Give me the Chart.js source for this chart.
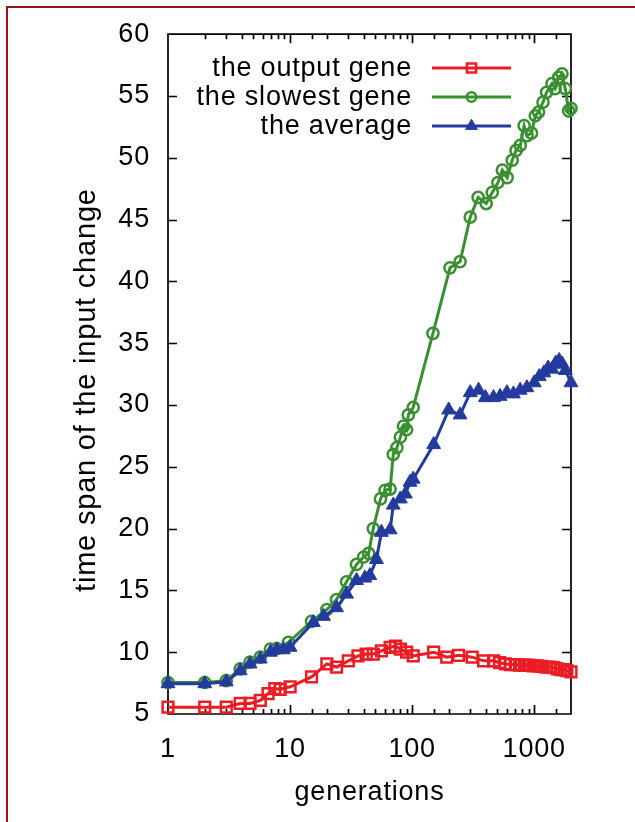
<!DOCTYPE html>
<html>
<head>
<meta charset="utf-8">
<script src="https://cdn.jsdelivr.net/npm/chart.js@4.4.1/dist/chart.umd.min.js"></script>
<style>
  html, body { margin: 0; padding: 0; background: #fff; overflow: hidden; }
  #wrap { position: relative; width: 635px; height: 822px; }
  #frame {
    position: absolute; left: 6px; top: 6px; width: 700px; height: 900px;
    border-left: 2.5px solid #9b1212; border-top: 2.5px solid #9b1212;
    pointer-events: none;
  }
  canvas { position: absolute; left: 0; top: 0; }
</style>
</head>
<body>
<div id="wrap">
  <canvas id="c" width="635" height="822"></canvas>
  <div id="frame"></div>
</div>
<script>
// generations (log axis) and time span values for each curve
const outputGeneX = [1, 2, 3, 3.9, 4.7, 5.7, 6.6, 7.5, 8.3, 10, 15, 20, 24, 30, 36, 42, 48, 56, 66, 73, 80, 90, 102, 150, 192, 240, 310, 385, 465, 520, 580, 640, 700, 760, 830, 900, 980, 1060, 1150, 1250, 1350, 1450, 1550, 1650, 1750, 1850, 2000];
const outputGeneY = [5.55, 5.55, 5.55, 5.85, 5.85, 6.1, 6.65, 7.05, 7.0, 7.2, 8.0, 9.05, 8.8, 9.3, 9.7, 9.85, 9.85, 10.1, 10.4, 10.5, 10.25, 10.0, 9.7, 10.0, 9.6, 9.75, 9.6, 9.3, 9.3, 9.15, 9.05, 9.0, 9.0, 8.95, 8.95, 8.95, 8.9, 8.9, 8.85, 8.8, 8.8, 8.75, 8.65, 8.6, 8.6, 8.5, 8.4];

const slowestGeneX = [1, 2, 3, 3.9, 4.7, 5.7, 6.9, 7.8, 9.7, 15, 20, 24, 29, 35, 40, 44, 48, 55, 60, 66, 70, 75, 80, 85, 90, 93, 102, 148, 204, 247, 299, 347, 404, 453, 504, 548, 600, 660, 710, 768, 826, 873, 950, 1020, 1084, 1180, 1262, 1397, 1480, 1585, 1687, 1795, 1910, 2000];
const slowestGeneY = [7.55, 7.55, 7.7, 8.65, 9.2, 9.6, 10.25, 10.3, 10.8, 12.5, 13.45, 14.25, 15.7, 17.1, 17.7, 18.0, 20.0, 22.4, 23.1, 23.2, 26.0, 26.55, 27.4, 28.3, 28.0, 29.2, 29.8, 35.8, 41.1, 41.6, 45.2, 46.8, 46.3, 47.2, 48.0, 49.0, 48.4, 49.8, 50.6, 51.0, 52.6, 51.8, 52.0, 53.4, 53.7, 54.5, 55.3, 56.0, 55.6, 56.5, 56.8, 55.6, 53.8, 54.0];

const averageX = [1, 2, 3, 3.9, 4.7, 5.7, 6.9, 7.8, 8.8, 10, 15.5, 18.8, 24, 29, 35, 41, 45, 51, 56, 66, 70, 80, 88, 96, 102, 150, 199, 247, 299, 350, 398, 464, 525, 597, 675, 767, 870, 1000, 1100, 1200, 1300, 1400, 1500, 1600, 1700, 1800, 2000];
const averageY = [7.45, 7.45, 7.6, 8.5, 9.05, 9.45, 10.0, 10.2, 10.2, 10.4, 12.4, 12.9, 13.6, 14.7, 15.8, 16.0, 16.2, 17.5, 19.7, 19.9, 21.9, 22.4, 22.8, 23.75, 24.0, 26.8, 29.6, 29.2, 31.0, 31.2, 30.6, 30.6, 30.7, 31.0, 30.9, 31.2, 31.4, 31.8, 32.3, 32.6, 33.0, 32.9, 33.4, 33.6, 33.3, 32.8, 31.8];

const seriesLabels = ['the output gene', 'the slowest gene', 'the average'];
const xTickLabels = [1, 10, 100, 1000];
const yTickValues = [5, 10, 15, 20, 25, 30, 35, 40, 45, 50, 55, 60];
const yAxisTitle = 'time span of the input change';

const RED = '#ec1c24', GREEN = '#3a9030', BLUE = '#233b9e';
const FONT = '"Liberation Sans", Arial, Helvetica, sans-serif';
const SIZE = 27;
const SPACING = '0.8px';

const toPoints = (xs, ys) => xs.map((x, i) => ({ x, y: ys[i] }));
const isPow10 = v => v > 0 && Math.abs(Math.log10(v) - Math.round(Math.log10(v))) < 1e-9;

// slightly looser tracking for all canvas text
const tracking = {
  id: 'tracking',
  beforeUpdate(chart) { chart.ctx.letterSpacing = SPACING; },
  beforeDraw(chart) { chart.ctx.letterSpacing = SPACING; }
};

// plot border with inward tick marks on all four sides
const frameTicks = {
  id: 'frameTicks',
  beforeDatasetsDraw(chart) {
    const { ctx, chartArea: a, scales: { x, y } } = chart;
    ctx.save();
    ctx.strokeStyle = '#000';
    ctx.lineWidth = 1.7;
    ctx.beginPath();
    ctx.rect(a.left, a.top, a.right - a.left, a.bottom - a.top);
    x.ticks.forEach(t => {
      const px = Math.round(x.getPixelForValue(t.value)) + 0.5;
      if (px <= a.left + 1 || px >= a.right - 1) return;
      const len = isPow10(t.value) ? 9 : 5;
      ctx.moveTo(px, a.bottom); ctx.lineTo(px, a.bottom - len);
      ctx.moveTo(px, a.top); ctx.lineTo(px, a.top + len);
    });
    y.ticks.forEach(t => {
      const py = Math.round(y.getPixelForValue(t.value)) + 0.5;
      if (py <= a.top + 1 || py >= a.bottom - 1) return;
      ctx.moveTo(a.left, py); ctx.lineTo(a.left + 9, py);
      ctx.moveTo(a.right, py); ctx.lineTo(a.right - 9, py);
    });
    ctx.stroke();

    // vertical axis title, running bottom to top beside the tick labels
    ctx.save();
    ctx.letterSpacing = SPACING;
    ctx.font = '29px ' + FONT;
    ctx.fillStyle = '#000';
    ctx.textAlign = 'center';
    ctx.textBaseline = 'middle';
    ctx.translate(87, (a.top + a.bottom) / 2 + 16);
    ctx.rotate(-Math.PI / 2);
    ctx.fillText(yAxisTitle, 0, 0);
    ctx.restore();
    ctx.restore();
  }
};

// key in the upper left: right-aligned text, then a line sample with its marker
const keyBox = {
  id: 'keyBox',
  afterDatasetsDraw(chart) {
    const { ctx } = chart;
    const textRight = 412, lineFrom = 432, lineTo = 511, rowTop = 68, rowGap = 29;
    ctx.save();
    ctx.letterSpacing = SPACING;
    ctx.font = SIZE + 'px ' + FONT;
    ctx.textAlign = 'right';
    ctx.textBaseline = 'middle';
    chart.data.datasets.forEach((ds, i) => {
      const yy = rowTop + i * rowGap;
      ctx.fillStyle = '#000';
      ctx.fillText(ds.label, textRight, yy + 1);
      ctx.strokeStyle = ds.borderColor;
      ctx.lineWidth = ds.borderWidth;
      ctx.beginPath();
      ctx.moveTo(lineFrom, yy); ctx.lineTo(lineTo, yy);
      ctx.stroke();
      ctx.fillStyle = ds.pointBackgroundColor;
      ctx.lineWidth = ds.pointBorderWidth;
      Chart.helpers.drawPoint(ctx, {
        pointStyle: ds.pointStyle, radius: ds.pointRadius * 0.85, rotation: 0,
        borderWidth: ds.pointBorderWidth
      }, (lineFrom + lineTo) / 2, yy);
    });
    ctx.restore();
  }
};

new Chart(document.getElementById('c'), {
  type: 'line',
  data: {
    datasets: [
      {
        label: seriesLabels[0], data: toPoints(outputGeneX, outputGeneY),
        borderColor: RED, borderWidth: 3, pointStyle: 'rect', pointRadius: 7.6,
        pointBorderColor: RED, pointBackgroundColor: 'rgba(0,0,0,0)', pointBorderWidth: 2.5,
        clip: false, order: 3
      },
      {
        label: seriesLabels[1], data: toPoints(slowestGeneX, slowestGeneY),
        borderColor: GREEN, borderWidth: 3, pointStyle: 'circle', pointRadius: 5.6,
        pointBorderColor: GREEN, pointBackgroundColor: 'rgba(0,0,0,0)', pointBorderWidth: 2.5,
        clip: false, order: 2
      },
      {
        label: seriesLabels[2], data: toPoints(averageX, averageY),
        borderColor: BLUE, borderWidth: 3, pointStyle: 'triangle', pointRadius: 8,
        pointBorderColor: BLUE, pointBackgroundColor: BLUE, pointBorderWidth: 1,
        clip: false, order: 1
      }
    ]
  },
  options: {
    responsive: false,
    animation: false,
    devicePixelRatio: 1,
    layout: { padding: { left: 0, top: 28, right: 64, bottom: 0 } },
    plugins: { legend: { display: false }, tooltip: { enabled: false } },
    elements: { line: { tension: 0 } },
    scales: {
      x: {
        type: 'logarithmic', min: 1, max: 2000,
        grid: { display: false, drawTicks: false },
        border: { display: false },
        afterFit: s => { s.height = 108; },
        ticks: {
          autoSkip: false, maxRotation: 0, padding: 19, color: '#000',
          font: { family: FONT, size: SIZE },
          callback: v => xTickLabels.includes(Number(v)) ? String(v) : ''
        },
        title: {
          display: true, text: 'generations', color: '#000',
          font: { family: FONT, size: SIZE }, padding: { top: 0, bottom: 13 }
        }
      },
      y: {
        min: 5, max: 60,
        grid: { display: false, drawTicks: false },
        border: { display: false },
        afterFit: s => { s.width = 168; },
        afterBuildTicks: s => { s.ticks = yTickValues.map(v => ({ value: v })); },
        ticks: { padding: 18, color: '#000', font: { family: FONT, size: SIZE } }
      }
    }
  },
  plugins: [tracking, frameTicks, keyBox]
});
</script>
</body>
</html>
